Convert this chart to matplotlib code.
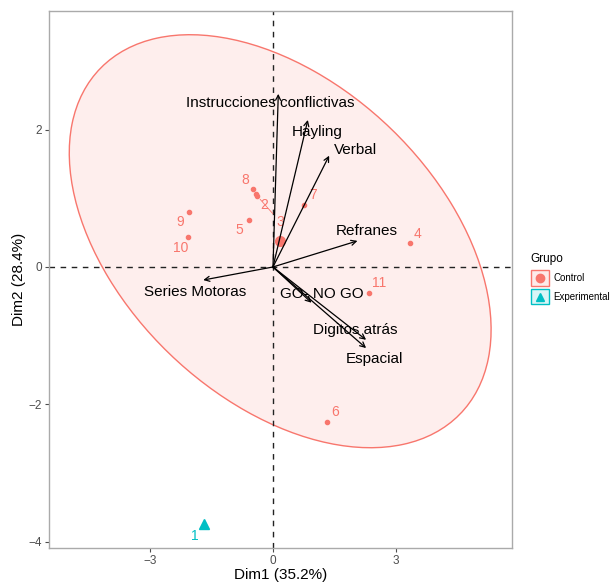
import numpy as np
import matplotlib.pyplot as plt
from matplotlib.patches import Ellipse, Rectangle
from matplotlib.lines import Line2D

# ── Daten ────────────────────────────────────────────────────
ind_labels = ['1', '2', '3', '4', '5', '6', '7', '8', '9', '10', '11']
ind_x = [-1.68, -0.42, -0.38, 3.33, -0.59, 1.31, 0.76, -0.49, -2.05, -2.06, 2.35]
ind_y = [-3.74, 1.06, 1.03, 0.35, 0.68, -2.26, 0.90, 1.14, 0.80, 0.43, -0.38]
ind_group = ['Experimental'] + ['Control'] * 10

var_names = ['Instrucciones conflictivas', 'Hayling', 'Verbal', 'Refranes',
             'Series Motoras', 'GO- NO GO', 'Digitos atrás', 'Espacial']
var_x = [0.13, 0.85, 1.37, 2.06, -1.70, 0.94, 2.27, 2.27]
var_y = [2.52, 2.14, 1.62, 0.38, -0.19, -0.52, -1.06, -1.18]

groups = ['Control', 'Experimental']
colors = {'Control': '#F8766D', 'Experimental': '#00BFC4'}

xticks = [-3, 0, 3]
yticks = [-4, -2, 0, 2]

# Label-Versatz in Pixeln (wie ggrepel)
ind_off = {'1': (-9, -12), '2': (8, -11), '3': (23, -26), '4': (8, 9), '5': (-9, -10),
           '6': (8, 10), '7': (9, 10), '8': (-8, 9), '9': (-9, -10), '10': (-8, -11),
           '11': (10, 10)}
var_off = {'Instrucciones conflictivas': (-8, -9), 'Hayling': (9, -12), 'Verbal': (26, 6),
           'Refranes': (9, 10), 'Series Motoras': (-8, -12), 'GO- NO GO': (10, 9),
           'Digitos atrás': (-11, 10), 'Espacial': (8, -11)}

plt.rcParams['font.family'] = ['Liberation Sans', 'DejaVu Sans']

fig = plt.figure(figsize=(6.1, 5.84), dpi=100)
ax = fig.add_axes([49 / 610, 1 - 548 / 584, (511.7 - 49) / 610, (548 - 10.7) / 584])

ix = np.array(ind_x)
iy = np.array(ind_y)
grp = np.array(ind_group)

# ── Konfidenz-Ellipse (norm, 95%) ────────────────────────────
mask = grp == 'Control'
pts = np.column_stack([ix[mask], iy[mask]])
center = pts.mean(axis=0)
cov = np.cov(pts.T)
vals, vecs = np.linalg.eigh(cov)
order = vals.argsort()[::-1]
vals, vecs = vals[order], vecs[:, order]
radius = np.sqrt(2 * 4.2565)  # qf(0.95, 2, 9)
angle = np.degrees(np.arctan2(vecs[1, 0], vecs[0, 0]))
ax.add_patch(Ellipse(center, 2 * radius * np.sqrt(vals[0]), 2 * radius * np.sqrt(vals[1]),
                     angle=angle, facecolor='#F8766D', alpha=0.12, edgecolor='none', zorder=1))
ax.add_patch(Ellipse(center, 2 * radius * np.sqrt(vals[0]), 2 * radius * np.sqrt(vals[1]),
                     angle=angle, facecolor='none', edgecolor='#F8766D', lw=1.0, zorder=2))

# Achsen bei 0
ax.axhline(0, color='#222222', ls=(0, (4, 4)), lw=1.0, zorder=2)
ax.axvline(0, color='#222222', ls=(0, (4, 4)), lw=1.0, zorder=2)

# ── Individuen ───────────────────────────────────────────────
for lab, x, y, g in zip(ind_labels, ind_x, ind_y, ind_group):
    c = colors[g]
    if g == 'Experimental':
        ax.plot(x, y, marker='^', color=c, ms=7, ls='none', zorder=4)
    else:
        ax.plot(x, y, marker='o', color=c, ms=3, ls='none', zorder=4)
    dx, dy = ind_off[lab]
    seg = dict(arrowprops=dict(arrowstyle='-', color=c, lw=0.6, shrinkA=1, shrinkB=3)) \
        if abs(dx) + abs(dy) > 30 else {}
    ax.annotate(lab, (x, y), xytext=(dx * 0.72, dy * 0.72), textcoords='offset points',
                ha='center', va='center', color=c, fontsize=10, zorder=5, **seg)

# Gruppenmittel
ax.plot(center[0], center[1], marker='o', color=colors['Control'], ms=7, ls='none', zorder=4)

# ── Variablen (Pfeile) ──────────────────────────────────────
for name, x, y in zip(var_names, var_x, var_y):
    ax.annotate('', xy=(x, y), xytext=(0, 0),
                arrowprops=dict(arrowstyle='->', color='black', lw=0.9,
                                mutation_scale=9, shrinkA=0, shrinkB=0), zorder=6)
    dx, dy = var_off[name]
    ax.annotate(name, (x, y), xytext=(dx * 0.72, dy * 0.72), textcoords='offset points',
                ha='center', va='center', color='black', fontsize=11, zorder=7)

ax.set_xlim(-5.46, 5.82)
ax.set_ylim(-4.09, 3.73)
ax.set_xticks(xticks)
ax.set_yticks(yticks)
ax.tick_params(colors='#4d4d4d', labelsize=8.5, length=3, width=0.8, pad=2,
               labelcolor='#4d4d4d')
for s in ax.spines.values():
    s.set_color('#aaaaaa')
    s.set_linewidth(1.0)
ax.set_xlabel('Dim1 (35.2%)', fontsize=11, labelpad=1)
ax.set_ylabel('Dim2 (28.4%)', fontsize=11, labelpad=2)

# ── Legende ─────────────────────────────────────────────────
W, H = 610, 584
fig.text(530 / W, 1 - 259 / H, 'Grupo', fontsize=8.5, ha='left', va='center')
for i, g in enumerate(groups):
    top = 270 + i * 19
    fig.add_artist(Rectangle((531 / W, 1 - (top + 15.5) / H), 17.5 / W, 15.5 / H,
                             transform=fig.transFigure, facecolor=colors[g], alpha=0.15,
                             edgecolor='none'))
    fig.add_artist(Rectangle((531 / W, 1 - (top + 15.5) / H), 17.5 / W, 15.5 / H,
                             transform=fig.transFigure, facecolor='none',
                             edgecolor=colors[g], lw=1.0))
    fig.add_artist(Line2D([539.8 / W], [1 - (top + 7.8) / H], transform=fig.transFigure,
                          marker='o' if g == 'Control' else '^', color=colors[g], ms=6))
    fig.text(553 / W, 1 - (top + 7.8) / H, g, fontsize=7, ha='left', va='center')

plt.savefig('out.png', dpi=100)
